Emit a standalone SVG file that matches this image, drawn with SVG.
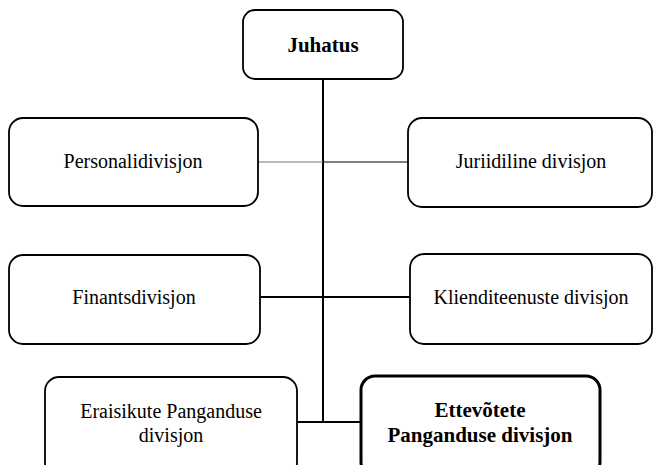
<svg xmlns="http://www.w3.org/2000/svg" width="653" height="465" viewBox="0 0 653 465">
  <style>
    .box { fill: #ffffff; stroke: #000000; stroke-width: 1.8; }
    .box-strong { fill: #ffffff; stroke: #000000; stroke-width: 3; }
    .lbl { font-family: "Liberation Serif", "Times New Roman", serif; font-size: 20px; fill: #000000; text-anchor: middle; }
    .lbl-b { font-family: "Liberation Serif", "Times New Roman", serif; font-size: 21px; font-weight: bold; fill: #000000; text-anchor: middle; }
    .wire { stroke: #000000; stroke-width: 2; fill: none; }
    .wire-thin { stroke: #000000; stroke-width: 1.2; fill: none; }
  </style>

  <!-- connectors -->
  <g id="connectors">
    <line class="wire" x1="323" y1="79" x2="323" y2="423"/>
    <line class="wire-thin" x1="258" y1="162" x2="323" y2="162" stroke="#777777" style="stroke:#777777"/>
    <line class="wire-thin" x1="323" y1="162" x2="408" y2="162"/>
    <line class="wire" x1="260" y1="297" x2="410" y2="297"/>
    <line class="wire" x1="297" y1="422" x2="361" y2="422"/>
  </g>

  <g id="juhatus">
    <rect class="box" x="243" y="10" width="160" height="69" rx="12"/>
    <text class="lbl-b" x="323" y="52">Juhatus</text>
  </g>

  <g id="personalidivisjon">
    <rect class="box" x="9" y="118" width="249" height="88" rx="14"/>
    <text class="lbl" x="133" y="168">Personalidivisjon</text>
  </g>

  <g id="juriidiline">
    <rect class="box" x="408" y="118" width="244" height="89" rx="14"/>
    <text class="lbl" x="531" y="168">Juriidiline divisjon</text>
  </g>

  <g id="finantsdivisjon">
    <rect class="box" x="9" y="255" width="251" height="89" rx="14"/>
    <text class="lbl" x="134" y="304">Finantsdivisjon</text>
  </g>

  <g id="klienditeenuste">
    <rect class="box" x="410" y="254" width="242" height="90" rx="14"/>
    <text class="lbl" x="531" y="304">Klienditeenuste divisjon</text>
  </g>

  <g id="eraisikute">
    <rect class="box" x="45" y="377" width="252" height="100" rx="14"/>
    <text class="lbl" x="171" y="418">Eraisikute Panganduse</text>
    <text class="lbl" x="171" y="442">divisjon</text>
  </g>

  <g id="ettevotete">
    <rect class="box-strong" x="361" y="376" width="239" height="100" rx="14"/>
    <text class="lbl-b" x="480" y="417">Ettevõtete</text>
    <text class="lbl-b" x="480" y="442">Panganduse divisjon</text>
  </g>
</svg>
